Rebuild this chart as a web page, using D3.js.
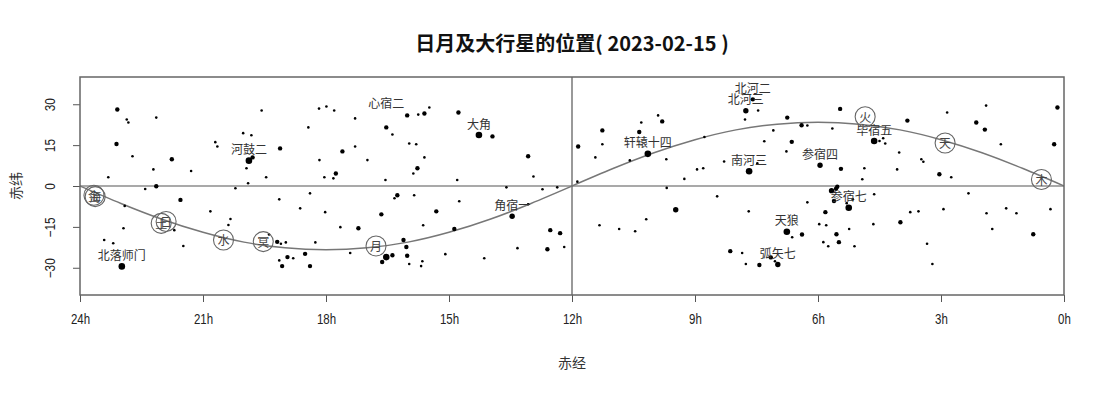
<!DOCTYPE html>
<html>
<head>
<meta charset="utf-8">
<script src="https://cdn.jsdelivr.net/npm/d3@7"></script>
<style>
  body { margin: 0; background: #fff; }
  svg { display: block; }
  .tick text { font-family: "Liberation Sans Narrow", "Liberation Sans", Arial, sans-serif; font-size: 14px; fill: #222; }
  .tick line { stroke: #555; }
</style>
</head>
<body>
<div id="chart"></div>
<script>
// chart data
var title = "日月及大行星的位置( 2023-02-15 )";
var xTicks = [24, 21, 18, 15, 12, 9, 6, 3, 0];
var yTicks = [-30, -15, 0, 15, 30];

// ecliptic, declination at each hour of RA (0h..24h)
var eclipticRA = [0, 1, 2, 3, 4, 5, 6, 7, 8, 9, 10, 11, 12, 13, 14, 15, 16, 17, 18, 19, 20, 21, 22, 23, 24];
var eclipticDec = [0, 6.4, 12.2, 17.0, 20.6, 22.7, 23.4, 22.7, 20.6, 17.0, 12.2, 6.4, 0,
                   -6.4, -12.2, -17.0, -20.6, -22.7, -23.4, -22.7, -20.6, -17.0, -12.2, -6.4, 0];

// stars: [RA (h), Dec (deg), magnitude class 0 bright .. 3 faint]
var stars = [
  [23.09, 28.1, 2], [22.86, 24.4, 3], [22.82, 23.3, 3], [22.14, 25.1, 3], [23.11, 15.4, 2],
  [22.72, 10.9, 3], [21.76, 9.8, 2], [22.21, 6.1, 3], [21.29, 5.5, 3], [23.31, 3.2, 3],
  [22.14, -0.1, 2], [22.41, -1.1, 3], [21.55, -5.1, 2], [22.91, -7.3, 3], [22.94, -15.5, 3],
  [23.41, -19.8, 3], [23.19, -21.0, 3], [22.98, -29.5, 0], [21.48, -22.0, 3], [20.82, -9.3, 3],
  [20.33, -12.1, 3], [20.38, -14.3, 3], [20.21, -0.8, 3], [19.57, 27.7, 3], [20.02, 19.4, 3],
  [19.82, 18.6, 3], [20.70, 16.1, 3], [20.65, 14.5, 3], [19.88, 9.3, 0], [19.79, 10.5, 2],
  [19.94, 6.5, 3], [19.90, 1.0, 3], [19.46, 3.2, 3], [19.12, 13.8, 2], [19.14, -4.9, 3],
  [18.39, -2.7, 3], [18.63, -8.2, 3], [18.43, 21.5, 3], [18.17, 28.4, 3], [18.16, 9.5, 3],
  [19.39, -17.8, 3], [19.19, -20.5, 2], [18.98, -20.7, 3], [19.10, -21.2, 3], [18.26, -20.7, 3],
  [18.51, -24.9, 2], [18.94, -26.1, 2], [18.80, -26.5, 3], [19.14, -27.3, 3], [19.07, -29.4, 2],
  [18.39, -29.4, 2], [21.70, -16.2, 3],
  [17.99, 29.2, 3], [17.80, 27.7, 3], [17.29, 24.8, 3], [16.53, 21.5, 2], [16.38, 18.9, 3],
  [16.02, 25.9, 2], [15.75, 26.2, 3], [15.60, 26.6, 2], [15.48, 28.8, 3], [14.77, 27.0, 2],
  [14.27, 18.7, 0], [13.94, 18.2, 2], [17.60, 12.7, 2], [17.29, 14.5, 3], [17.76, 4.6, 2],
  [18.04, 3.2, 3], [17.82, 2.8, 3], [16.99, 9.5, 3], [15.97, 15.6, 3], [15.80, 15.3, 3],
  [15.60, 10.5, 3], [15.77, 6.5, 2], [15.87, 4.6, 3], [16.55, 2.2, 3], [14.80, 2.2, 3],
  [13.07, 10.9, 2], [12.94, 3.5, 3], [11.85, 14.5, 2], [11.87, 1.6, 3], [13.60, -0.5, 3],
  [12.72, -1.2, 3], [12.36, -0.5, 3], [16.26, -3.4, 2], [16.33, -4.5, 3], [15.85, -3.4, 3],
  [14.75, -5.6, 3], [18.02, -9.6, 3], [16.65, -10.4, 2], [15.31, -9.3, 2], [13.46, -11.1, 1],
  [13.07, -6.7, 3], [17.65, -15.1, 3], [17.21, -15.5, 2], [15.63, -14.4, 3], [14.87, -15.8, 2],
  [17.41, -24.6, 3], [16.11, -19.8, 2], [16.04, -22.4, 2], [16.02, -25.6, 2], [16.38, -25.4, 2],
  [16.53, -26.1, 0], [16.63, -27.9, 2], [15.97, -28.6, 3], [15.65, -27.6, 3], [15.68, -29.4, 3],
  [15.09, -25.0, 3], [14.14, -26.5, 3], [13.33, -22.8, 3], [12.60, -23.2, 2], [12.53, -16.2, 2],
  [12.29, -17.3, 2], [12.19, -22.4, 3],
  [7.76, 27.6, 1], [7.59, 31.8, 2], [7.46, 27.7, 3], [7.78, 24.4, 3], [6.75, 25.1, 2],
  [6.40, 22.3, 2], [6.26, 22.2, 3], [5.65, 21.1, 3], [5.46, 28.3, 2], [7.09, 20.4, 3],
  [7.31, 16.4, 3], [6.64, 16.2, 2], [6.77, 12.7, 3], [5.95, 7.6, 1], [5.44, 6.3, 2],
  [7.48, 8.3, 3], [7.68, 5.4, 0], [8.29, 9.0, 3], [8.95, 6.1, 3], [8.80, 6.5, 3],
  [9.26, 2.6, 3], [9.69, -0.7, 3], [9.70, 9.8, 3], [10.15, 11.8, 0], [10.59, 9.4, 3],
  [11.43, 10.5, 3], [11.26, 15.3, 3], [11.26, 20.4, 2], [10.31, 23.3, 3], [10.36, 19.8, 2],
  [9.90, 25.9, 3], [9.80, 23.7, 2], [8.77, 18.0, 3], [8.46, -3.8, 3], [9.47, -8.7, 1],
  [7.69, -9.3, 3], [10.19, -12.2, 3], [11.33, -14.4, 3], [10.85, -15.8, 3], [10.46, -16.6, 3],
  [6.76, -16.8, 0], [6.39, -17.8, 2], [6.63, -18.8, 3], [6.26, -6.0, 3], [5.82, -9.6, 2],
  [5.97, -14.0, 3], [5.80, -14.4, 3], [5.55, -17.7, 2], [5.87, -20.6, 3], [5.75, -22.1, 3],
  [5.49, -20.6, 2], [8.14, -23.9, 2], [7.85, -24.6, 3], [7.15, -26.2, 2], [7.05, -27.6, 3],
  [7.76, -28.6, 3], [7.43, -29.0, 2], [6.98, -28.8, 1], [5.67, -1.7, 1], [5.56, -1.0, 2],
  [5.53, -0.3, 2], [5.61, -5.5, 2], [5.25, -8.0, 0], [5.15, -4.9, 3], [5.30, -6.3, 3],
  [5.24, -15.8, 3], [5.11, -22.1, 3],
  [3.82, 24.0, 2], [2.85, 27.0, 3], [1.90, 29.5, 3], [0.16, 28.8, 2], [2.14, 23.3, 2],
  [1.93, 20.7, 2], [4.63, 16.5, 0], [4.50, 16.5, 3], [4.41, 17.5, 3], [4.36, 15.6, 3],
  [1.54, 15.3, 3], [0.24, 15.3, 2], [4.02, 12.3, 3], [4.87, 6.5, 3], [4.92, 2.5, 3],
  [4.07, 6.1, 3], [3.48, 9.8, 3], [3.43, 8.9, 3], [3.04, 4.3, 2], [2.75, 3.2, 3],
  [2.33, -2.7, 3], [4.63, -3.0, 3], [4.65, -14.0, 3], [3.99, -13.3, 2], [3.75, -9.6, 3],
  [3.55, -9.3, 3], [2.94, -8.5, 3], [1.89, -10.0, 3], [1.41, -8.2, 3], [1.16, -10.0, 3],
  [0.33, -8.5, 3], [1.75, -15.8, 3], [0.75, -17.7, 2], [3.34, -21.2, 3], [3.21, -28.6, 3]
];

// named stars
var labelNames = ["北落师门", "河鼓二", "心宿二", "大角", "角宿一", "轩辕十四", "北河二", "北河三",
                  "南河三", "参宿四", "参宿七", "天狼", "弧矢七", "毕宿五"];
var labelRA = [22.98, 19.88, 16.53, 14.27, 13.46, 10.15, 7.59, 7.76, 7.68, 5.95, 5.25, 6.76, 6.98, 4.63];
var labelDec = [-29.5, 9.3, 26.4, 18.7, -11.1, 11.8, 31.8, 27.6, 5.4, 7.6, -8.0, -16.8, -28.8, 16.5];

// sun, moon and planets
var planetNames = ["金", "海", "日", "土", "水", "冥", "月", "火", "天", "木"];
var planetRA = [23.66, 23.63, 21.90, 22.02, 20.50, 19.53, 16.78, 4.85, 2.90, 0.55];
var planetDec = [-3.4, -3.9, -13.0, -13.7, -19.8, -20.4, -22.0, 25.4, 15.8, 2.4];

var W = 1106, H = 394;
var margin = { top: 77, right: 42, bottom: 99, left: 80 },
    width = W - margin.left - margin.right,
    height = H - margin.top - margin.bottom;

var svg = d3.select("#chart").append("svg")
    .attr("width", W)
    .attr("height", H);

var g = svg.append("g")
    .attr("transform", "translate(" + margin.left + "," + margin.top + ")");

var x = d3.scaleLinear().domain([24, 0]).range([0, width]);
var y = d3.scaleLinear().domain([-40, 40]).range([height, 0]);
var r = d3.scaleOrdinal().domain([0, 1, 2, 3]).range([3.3, 2.7, 2.2, 1.3]);

// clip to the plot box
g.append("clipPath").attr("id", "clip")
    .append("rect").attr("width", width).attr("height", height);

var cjk = "'Noto Sans CJK SC', 'Noto Sans', sans-serif";

// axes
var xAxis = g.append("g")
    .attr("transform", "translate(0," + height + ")")
    .call(d3.axisBottom(x).tickValues(xTicks).tickSize(7).tickPadding(12).tickFormat(function (d) { return d + "h"; }));
xAxis.select(".domain").remove();
xAxis.selectAll(".tick text")
    .attr("transform", "scale(0.82,1)")
    .attr("x", 0);

var yAxis = g.append("g")
    .call(d3.axisLeft(y).tickValues(yTicks).tickSize(7).tickFormat(d3.format("d")));
yAxis.select(".domain").remove();
yAxis.selectAll(".tick text")
    .attr("x", null).attr("dy", null)
    .attr("text-anchor", "middle")
    .attr("transform", "translate(-30,0) rotate(-90) scale(0.85,1)")
    .attr("dominant-baseline", "central");

// reference lines
g.append("line")
    .attr("x1", 0).attr("x2", width)
    .attr("y1", y(0)).attr("y2", y(0))
    .attr("stroke", "#555").attr("stroke-width", 1.2);
g.append("line")
    .attr("x1", x(12)).attr("x2", x(12))
    .attr("y1", 0).attr("y2", height)
    .attr("stroke", "#555").attr("stroke-width", 1.2);

// ecliptic
var ecl = d3.line()
    .x(function (d, i) { return x(eclipticRA[i]); })
    .y(function (d) { return y(d); })
    .curve(d3.curveNatural);
g.append("path")
    .attr("clip-path", "url(#clip)")
    .attr("d", ecl(eclipticDec))
    .attr("fill", "none")
    .attr("stroke", "#777")
    .attr("stroke-width", 1.5);

// stars
g.append("g").selectAll("circle")
    .data(stars)
    .enter().append("circle")
    .attr("cx", function (d) { return x(d[0]); })
    .attr("cy", function (d) { return y(d[1]); })
    .attr("r", function (d) { return r(d[2]); })
    .attr("fill", "#000");

// star names
g.append("g").selectAll("text")
    .data(labelNames)
    .enter().append("text")
    .attr("x", function (d, i) { return x(labelRA[i]); })
    .attr("y", function (d, i) { return y(labelDec[i]) - 12; })
    .attr("text-anchor", "middle")
    .attr("dominant-baseline", "central")
    .style("font-family", cjk)
    .style("font-size", "12px")
    .attr("fill", "#333")
    .text(function (d) { return d; });

// planets
var pl = g.append("g").selectAll("g")
    .data(planetNames)
    .enter().append("g")
    .attr("transform", function (d, i) { return "translate(" + x(planetRA[i]) + "," + y(planetDec[i]) + ")"; });
pl.append("circle")
    .attr("r", 10)
    .attr("fill", "none")
    .attr("stroke", "#666")
    .attr("stroke-width", 1.1);
pl.append("text")
    .attr("text-anchor", "middle")
    .attr("dominant-baseline", "central")
    .style("font-family", cjk)
    .style("font-size", "12px")
    .attr("fill", "#444")
    .text(function (d) { return d; });

// box
g.append("rect")
    .attr("width", width).attr("height", height)
    .attr("fill", "none")
    .attr("stroke", "#666")
    .attr("stroke-width", 1.5);

// titles
svg.append("text")
    .attr("x", margin.left + width / 2)
    .attr("y", 42)
    .attr("text-anchor", "middle")
    .attr("dominant-baseline", "central")
    .style("font-family", "'Noto Sans CJK SC', 'Liberation Sans', sans-serif")
    .style("font-size", "20px")
    .style("font-weight", "bold")
    .attr("fill", "#111")
    .text(title);

svg.append("text")
    .attr("x", margin.left + width / 2)
    .attr("y", 362)
    .attr("text-anchor", "middle")
    .attr("dominant-baseline", "central")
    .style("font-family", cjk)
    .style("font-size", "14px")
    .attr("fill", "#333")
    .text("赤经");

svg.append("text")
    .attr("transform", "translate(15," + (margin.top + y(0)) + ") rotate(-90)")
    .attr("text-anchor", "middle")
    .attr("dominant-baseline", "central")
    .style("font-family", cjk)
    .style("font-size", "14px")
    .attr("fill", "#333")
    .text("赤纬");
</script>
</body>
</html>
